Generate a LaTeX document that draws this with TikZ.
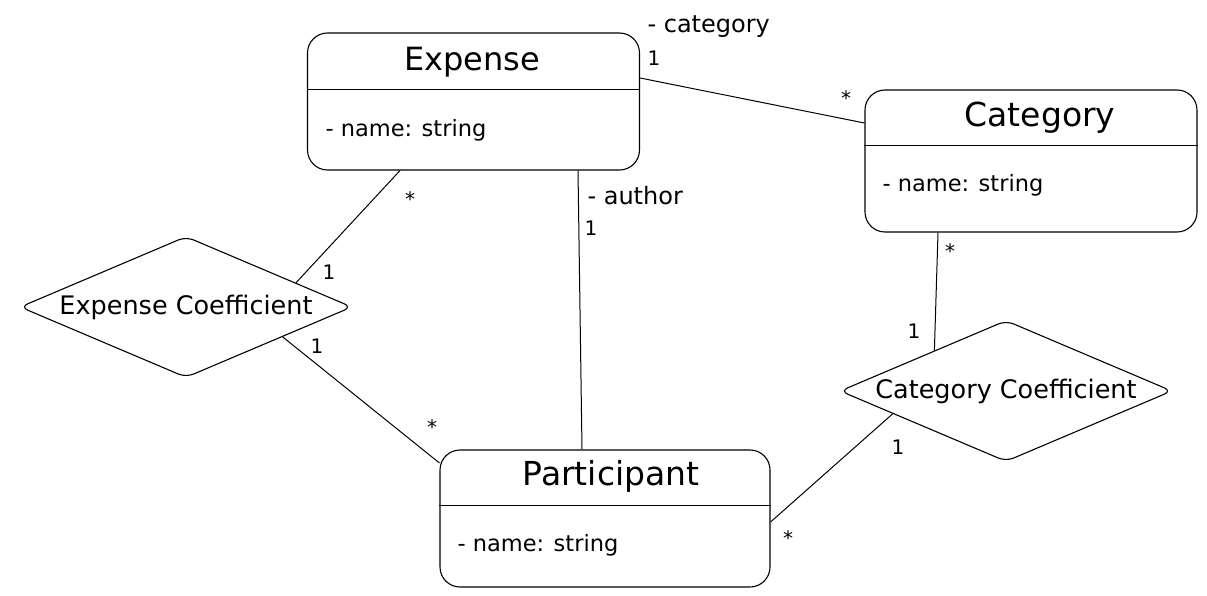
\documentclass[tikz,border=0pt]{standalone}
\usepackage{fontspec}
\setmainfont{DejaVu Sans}
\usetikzlibrary{shapes.geometric, calc}

\begin{document}
\begin{tikzpicture}[x = 1pt, y = -1pt,
	classbox/.style = {draw, rounded corners = 20pt, line width = 1.1pt, minimum width = 332pt, minimum height = 137pt, inner sep = 0pt},
	relation/.style = {draw, diamond, aspect = 2.35, rounded corners = 8pt, line width = 1.1pt, minimum width = 332pt, minimum height = 141pt, inner sep = 0pt, font = \fontsize{25.5}{29}\selectfont},
	title/.style = {font = \fontsize{33}{38}\selectfont},
	attr/.style = {anchor = west, font = \fontsize{22.5}{26}\selectfont},
	role/.style = {anchor = west, font = \fontsize{24}{28}\selectfont},
	mult/.style = {font = \fontsize{20}{24}\selectfont},
	link/.style = {line width = 1pt}]
	\useasboundingbox (0,0) rectangle (1207,596);

	% classes
	\node[classbox] (expense) at (473.5,101.5) {};
	\node[classbox, minimum height = 142pt] (category) at (1031,161) {};
	\node[classbox, minimum width = 330pt] (participant) at (605,518.5) {};
	\draw[line width = 1.1pt] ($(expense.north west)+(0,57)$) -- ($(expense.north east)+(0,57)$);
	\draw[line width = 1.1pt] ($(category.north west)+(0,56)$) -- ($(category.north east)+(0,56)$);
	\draw[line width = 1.1pt] ($(participant.north west)+(0,56)$) -- ($(participant.north east)+(0,56)$);
	\node[title, font = \fontsize{32}{36}\selectfont] (expensetitle) at (472,62) {Expense};
	\node[title] (categorytitle) at (1040,118) {Category};
	\node[title] (participanttitle) at (611,476) {Participant};
	\node[attr] (expenseattr) at (322,130) {- name: string};
	\node[attr] (categoryattr) at (879,185) {- name: string};
	\node[attr] (participantattr) at (454,545) {- name: string};

	% relations
	\node[relation] (expcoef) at (186,307) {Expense Coefficient};
	\node[relation] (catcoef) at (1006,391) {Category Coefficient};

	% links
	\draw[link] ([yshift = 23.5pt]expense.east) -- ([yshift = 38pt]category.west);
	\draw[link] ([xshift = 104.5pt]expense.south) -- ([xshift = -23pt]participant.north);
	\draw[link] ([xshift = -73.5pt]expense.south) -- ($(expcoef.north)!0.66!(expcoef.east)$);
	\draw[link] ($(expcoef.east)!0.42!(expcoef.south)$) -- ([yshift = 55.5pt]participant.west);
	\draw[link] ([xshift = -93pt]category.south) -- ($(catcoef.west)!0.57!(catcoef.north)$);
	\draw[link] ($(catcoef.west)!0.32!(catcoef.south)$) -- ([yshift = -3.5pt]participant.east);

	% multiplicities
	\node[role] (rolecategory) at (644,27) {- category};
	\node[mult] (catone) at (654,58) {1};
	\node[mult] (catmany) at (846,98) {*};
	\node[role] (roleauthor) at (584,196) {- author};
	\node[mult] (authone) at (591,228) {1};
	\node[mult] (expmany) at (410,199) {*};
	\node[mult] (expone) at (329,272) {1};
	\node[mult] (partone) at (317,346) {1};
	\node[mult] (partmany) at (432,427) {*};
	\node[mult] (catcoefmany) at (950,251) {*};
	\node[mult] (catcoefone) at (914,331) {1};
	\node[mult] (pcatone) at (898,447) {1};
	\node[mult] (pcatmany) at (788,538) {*};
\end{tikzpicture}
\end{document}
